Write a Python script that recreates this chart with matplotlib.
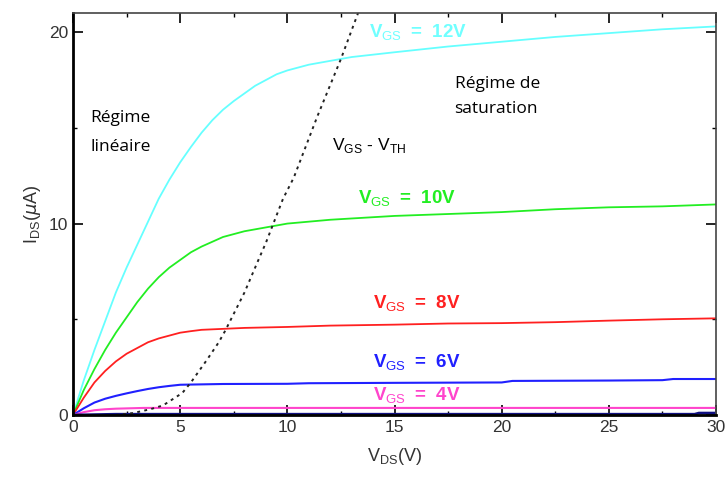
import numpy as np
import matplotlib
matplotlib.use('Agg')
import matplotlib.pyplot as plt
from matplotlib.ticker import MultipleLocator

plt.rcParams['font.family'] = ['Liberation Sans', 'DejaVu Sans']
plt.rcParams['mathtext.fontset'] = 'custom'
plt.rcParams['mathtext.rm'] = 'Liberation Sans'
plt.rcParams['mathtext.bf'] = 'Liberation Sans:bold'

# I_DS (uA) vs V_DS (V)
vds_12 = [0, 0.25, 0.5, 1, 1.5, 2, 2.5, 3, 3.5, 4, 4.5, 5, 5.5, 6, 6.5, 7, 7.5, 8, 8.5, 9,
          9.5, 10, 11, 12, 13, 15, 17.5, 20, 22.5, 25, 27.5, 30]
ids_12 = [0, 0.9, 1.8, 3.4, 4.9, 6.4, 7.7, 8.9, 10.1, 11.3, 12.3, 13.2, 14.0, 14.75, 15.4,
          15.95, 16.4, 16.8, 17.2, 17.5, 17.8, 18.0, 18.3, 18.5, 18.7, 18.95, 19.25, 19.5,
          19.75, 19.95, 20.15, 20.3]

vds_10 = [0, 0.5, 1, 1.5, 2, 2.5, 3, 3.5, 4, 4.5, 5, 5.5, 6, 6.5, 7, 7.5, 8, 8.5, 9, 10,
          12, 15, 17.5, 20, 22.5, 25, 27.5, 30]
ids_10 = [0, 1.3, 2.4, 3.4, 4.3, 5.1, 5.9, 6.6, 7.2, 7.7, 8.1, 8.5, 8.8, 9.05, 9.3, 9.45,
          9.6, 9.7, 9.8, 10.0, 10.2, 10.4, 10.5, 10.6, 10.75, 10.85, 10.9, 11.0]

vds_8 = [0, 0.5, 1, 1.5, 2, 2.5, 3, 3.5, 4, 4.5, 5, 5.5, 6, 7, 8, 10, 12, 15, 17.5, 20,
         22.5, 25, 27.5, 30]
ids_8 = [0, 0.9, 1.7, 2.3, 2.8, 3.2, 3.5, 3.8, 4.0, 4.15, 4.3, 4.38, 4.45, 4.5, 4.55, 4.6,
         4.67, 4.72, 4.78, 4.8, 4.85, 4.93, 5.0, 5.05]

vds_6 = [0, 0.5, 1, 1.5, 2, 2.5, 3, 3.5, 4, 4.5, 5, 7, 10, 11, 15, 20, 20.5, 25, 27.5, 28, 30]
ids_6 = [0, 0.35, 0.65, 0.85, 1.0, 1.13, 1.25, 1.36, 1.45, 1.52, 1.58, 1.62, 1.63, 1.66,
         1.68, 1.7, 1.78, 1.8, 1.82, 1.88, 1.88]

vds_4 = [0, 0.5, 1, 1.5, 2, 3.3, 30]
ids_4 = [0, 0.15, 0.25, 0.3, 0.33, 0.37, 0.37]

vds_2 = [0, 2, 29, 29.2, 30]
ids_2 = [0, 0.04, 0.04, 0.1, 0.1]

# V_DS = V_GS - V_TH boundary
vds_sat = [2.0, 2.8, 3.6, 4.2, 5.1, 5.5, 6.26, 6.8, 7.1, 8.0, 8.65, 9.0, 9.8, 10.3, 11.4, 12.5, 13.3]
ids_sat = [0, 0.1, 0.3, 0.5, 1.15, 1.7, 2.9, 3.8, 4.4, 6.4, 8.1, 9.0, 11.3, 12.4, 15.6, 18.6, 21.0]

fig = plt.figure(figsize=(7.25, 4.82), dpi=100)
ax = fig.add_axes([0.1007, 0.139, 0.8869, 0.834])

ax.plot(vds_12, ids_12, color='#66ffff', lw=1.3)
ax.plot(vds_10, ids_10, color='#22ee22', lw=1.3)
ax.plot(vds_8, ids_8, color='#ff2020', lw=1.3)
ax.plot(vds_6, ids_6, color='#2020ff', lw=1.5)
ax.plot(vds_4, ids_4, color='#ff44cc', lw=1.5)
ax.plot(vds_2, ids_2, color='#101080', lw=2)
ax.plot(vds_sat, ids_sat, color='#222222', lw=1.4, ls=(0, (1.5, 2.2)))

labels = [(13.8, 19.95, '12', '#70ffff'),
          (13.3, 11.3, '10', '#22ee22'),
          (14.0, 5.8, '8', '#ff2020'),
          (14.0, 2.7, '6', '#2020ff'),
          (14.0, 1.0, '4', '#ff44cc')]
for x, y, v, c in labels:
    ax.text(x, y, r'$\mathbf{V}_{\mathrm{GS}}\ \mathbf{=\ ' + v + r'V}$',
            color=c, fontsize=13.5, va='center', ha='left', zorder=1)

sans = ['Open Sans', 'DejaVu Sans']
ax.text(0.8, 15.5, 'Régime', fontsize=12.5, va='center', family=sans)
ax.text(0.8, 14.0, 'linéaire', fontsize=12.5, va='center', family=sans)
ax.text(17.8, 17.3, 'Régime de', fontsize=12.5, va='center', family=sans)
ax.text(17.8, 16.0, 'saturation', fontsize=12.5, va='center', family=sans)
ax.text(12.1, 14.1, r'V$_{\mathrm{GS}}$ - V$_{\mathrm{TH}}$', fontsize=12.5, va='center')

ax.set_xlim(0, 30)
ax.set_ylim(0, 21)
ax.xaxis.set_major_locator(MultipleLocator(5))
ax.xaxis.set_minor_locator(MultipleLocator(2.5))
ax.yaxis.set_major_locator(MultipleLocator(10))
ax.yaxis.set_minor_locator(MultipleLocator(5))
ax.tick_params(which='both', direction='in', top=True, right=True,
               labelsize=12.5, labelcolor='#333333')
ax.tick_params(which='major', length=7, width=1.2)
ax.tick_params(which='minor', length=3, width=1)

for s in ['left', 'bottom']:
    ax.spines[s].set_linewidth(2)
for s in ['top', 'right']:
    ax.spines[s].set_linewidth(1.2)
    ax.spines[s].set_color('#444444')

ax.set_xlabel(r'V$_{\mathrm{DS}}$(V)', fontsize=13, color='#333333', labelpad=8)
ax.set_ylabel(r'I$_{\mathrm{DS}}$($\mu$A)', fontsize=13, color='#333333', labelpad=4)

fig.savefig('out.png', dpi=100)
